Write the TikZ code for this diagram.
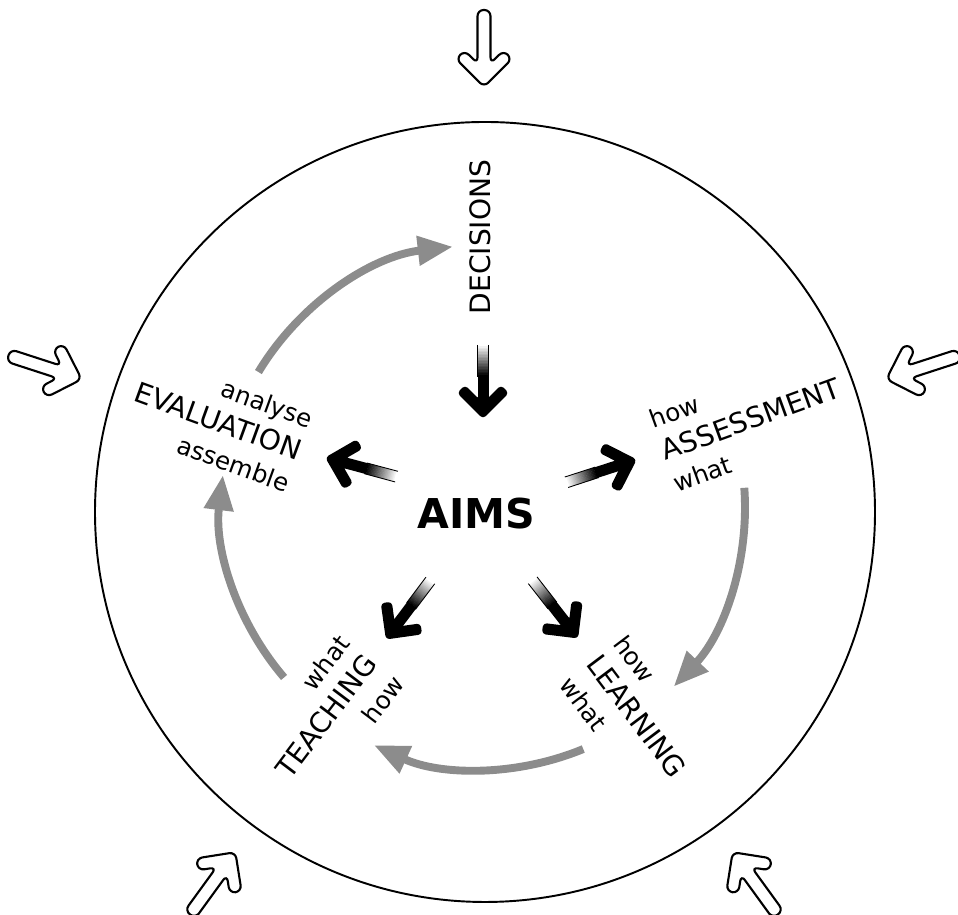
\documentclass[tikz,border=0pt]{standalone}
\usepackage{fontspec}
\setmainfont{DejaVu Sans}
\usetikzlibrary{arrows.meta}
\usetikzlibrary{calc}
\definecolor{cyclegrey}{RGB}{140,140,140}
\tikzstyle{openline}=[draw=black,line width=1.2pt,fill=white,rounded corners=3.5pt]
\tikzstyle{greyarc}=[draw=cyclegrey,line width=4.5pt,-{Triangle[length=20pt,width=16pt]}]
\tikzstyle{aimhead}=[fill=black,draw=black,line width=1.5pt,line join=round,rounded corners=1.5pt]
\tikzstyle{stagelabel}=[font=\fontsize{16}{16.4}\selectfont,inner sep=0pt]
\newcommand{\smallword}[1]{{\fontsize{14}{16.4}\selectfont #1}}

% hollow arrow on the rim, pointing in
\newcommand{\openarrow}[1]{%
  \begin{scope}[shift={(484,405)},rotate=#1,shift={(423,0)},rotate=180]
    \draw[openline] (0,0) -- (-28,28) -- (-36.5,19.5) -- (-23.5,6.5) -- (-77,6.5)
      -- (-77,-6.5) -- (-23.5,-6.5) -- (-36.5,-19.5) -- (-28,-28) -- cycle;
  \end{scope}}

% black arrow, fading in from white
\newcommand{\aimarrow}[2]{%
  \begin{scope}[shift={#1},rotate=#2]
    \foreach \i [evaluate=\i as \tone using int(5*\i)] in {0,...,20}
      \fill[black!\tone] (-72+1.5*\i,-5.5) rectangle (-70.2+1.5*\i,5.5);
    \fill[black] (-41,-5.5) rectangle (-16,5.5);
    \draw[line width=0.5pt] (-72,5.5) -- (-40,5.5) (-72,-5.5) -- (-40,-5.5);
    \filldraw[aimhead] (0,0) -- (-24,24) -- (-30,18) -- (-17.5,5.5) -- (-17.5,-5.5)
      -- (-30,-18) -- (-24,-24) -- cycle;
  \end{scope}}

\begin{document}
\begin{tikzpicture}[x=0.02cm,y=0.02cm]
  \useasboundingbox (0,0) rectangle (958,915);
  \draw[line width=1.1pt] (485,403) circle (390);

  \foreach \a in {90,162,18,234,306}
    \openarrow{\a};

  \coordinate (hub) at (483,408);
  \foreach \s/\e in {149/96.6, 4.2/-43.3, -67.5/-114.6, 220.6/173}
    \draw[greyarc] ($(hub)+(\s:262)$) arc (\s:\e:262);

  \node[stagelabel,rotate=90] (decisions) at (480,678) {DECISIONS};
  \node[stagelabel,rotate=-20,align=right] (evaluation) at (218,493)
    {\smallword{analyse}\\[3pt]EVALUATION\\[3pt]\smallword{assemble}};
  \node[stagelabel,rotate=20,align=left] (assessment) at (751,495)
    {\smallword{how}\\[3pt]ASSESSMENT\\[3pt]\smallword{what}};
  \node[stagelabel,rotate=53,align=right] (teaching) at (327,198)
    {\smallword{what}\\[3pt]TEACHING\\[3pt]\smallword{how}};
  \node[stagelabel,rotate=-53,align=left] (learning) at (636,198)
    {\smallword{how}\\[3pt]LEARNING\\[3pt]\smallword{what}};
  \node[font=\fontsize{23.4}{28}\selectfont\bfseries] (aims) at (476,401) {AIMS};

  \aimarrow{(483,498)}{270}
  \aimarrow{(327,457)}{165}
  \aimarrow{(635,455)}{18}
  \aimarrow{(387,277)}{233}
  \aimarrow{(577,278)}{308}
\end{tikzpicture}
\end{document}
